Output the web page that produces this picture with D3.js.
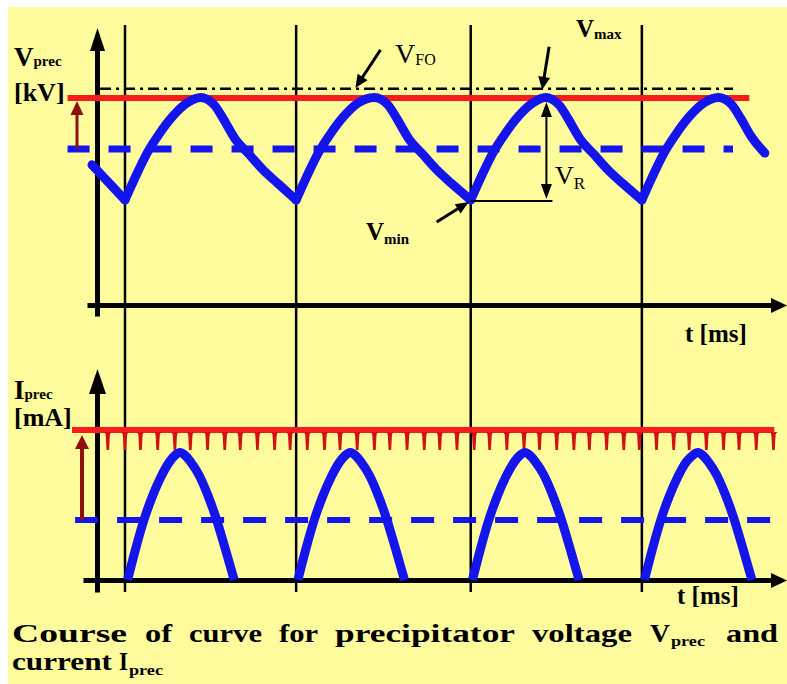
<!DOCTYPE html>
<html><head><meta charset="utf-8">
<script src="https://cdn.jsdelivr.net/npm/d3@7"></script>
<style>html,body{margin:0;padding:0;background:#fff;} svg{display:block;}</style>
</head><body>
<svg id="chart" width="787" height="684"></svg>
<script>
// ---------------- DATA ----------------
// reference instants (ms) marked by the vertical lines
const cycleStarts = [0, 9.95, 20.1, 30.05];
// precipitator voltage waveform (ms, kV)
const voltageT = [-1.92, -1.0, 0,
  0.6, 1.3, 2.0, 2.8, 3.6, 4.4, 4.75, 5.2, 5.7, 6.4, 7.2, 8.0, 8.9, 9.95,
  10.55, 11.25, 11.95, 12.75, 13.55, 14.5, 14.85, 15.3, 15.8, 16.5, 17.3, 18.1, 19.0, 20.1,
  20.7, 21.4, 22.1, 22.9, 23.7, 24.45, 24.8, 25.25, 25.75, 26.45, 27.25, 28.05, 28.95, 30.05,
  30.65, 31.35, 32.05, 32.85, 33.65, 34.5, 34.85, 35.3, 35.8, 36.4, 37.2];
const voltageV = [46.9, 43.6, 40,
  44.5, 49.3, 53, 56.5, 59, 60.1, 59.8, 58.6, 56, 52, 49, 46, 43.2, 40,
  44.5, 49.3, 53, 56.5, 59, 60.1, 59.8, 58.6, 56, 52, 49, 46, 43.2, 40,
  44.5, 49.3, 53, 56.5, 59, 60.1, 59.8, 58.6, 56, 52, 49, 46, 43.2, 40,
  44.5, 49.3, 53, 56.5, 59, 60.1, 59.8, 58.6, 56, 52.5, 49.2];
// voltage levels (kV)
const vFO = 61.8, vMax = 60, vMean = 50, vMin = 40;
// current pulses (ms, mA)
const humpT = [
  [0.15, 0.6, 1.1, 1.6, 2.1, 2.6, 2.9, 3.2, 3.5, 3.8, 4.3, 4.8, 5.3, 5.8, 6.35],
  [10.05, 10.5, 11.0, 11.5, 12.0, 12.5, 12.8, 13.1, 13.4, 13.7, 14.2, 14.7, 15.2, 15.7, 16.25],
  [20.2, 20.65, 21.15, 21.65, 22.15, 22.65, 22.95, 23.25, 23.55, 23.85, 24.35, 24.85, 25.35, 25.85, 26.4],
  [30.2, 30.65, 31.15, 31.65, 32.15, 32.65, 33.0, 33.3, 33.6, 33.9, 34.4, 34.9, 35.4, 35.9, 36.45]];
const humpI = [
  [0, 20, 40, 56, 69, 79, 83, 85, 83, 79, 70, 57, 41, 22, 0],
  [0, 20, 40, 56, 69, 79, 83, 85, 83, 79, 70, 57, 41, 22, 0],
  [0, 20, 40, 56, 69, 79, 83, 85, 83, 79, 70, 57, 41, 22, 0],
  [0, 20, 40, 56, 69, 79, 83, 85, 83, 79, 70, 57, 41, 22, 0]];
// current levels (mA)
const iMax = 100, iMean = 40;
// instants of the ripple notches on the max-current line (ms)
const rippleT = [-1.0, 0.0, 0.9, 1.9, 2.9, 3.8, 4.8, 5.8, 6.7, 7.7, 8.7, 9.6, 10.6, 11.6, 12.5,
  13.5, 14.5, 15.4, 16.4, 17.4, 18.3, 19.3, 20.3, 21.2, 22.2, 23.2, 24.1, 25.1, 26.1, 27.0,
  28.0, 29.0, 29.9, 30.9, 31.9, 32.8, 33.8, 34.8, 35.7, 36.7, 37.7];
// texts
const vLabel = ["V", "prec", "[kV]"];
const iLabel = ["I", "prec", "[mA]"];
const timeLabel = "t [ms]";

// ---------------- LAYOUT ----------------
const BLUE = "#1414EC", RED = "#FA1C1C", DARKRED = "#8E1010", BG = "#FEFC9C";
const FONT = "'Liberation Serif','Times New Roman',serif";
const svg = d3.select("#chart");
svg.append("rect").attr("x", 8).attr("y", 7).attr("width", 779).attr("height", 677).attr("fill", BG);

const x = d3.scaleLinear().domain([0, 10]).range([125, 297]);
const vY = d3.scaleLinear().domain([40, 60]).range([200, 98]);
const iY = d3.scaleLinear().domain([0, 100]).range([580, 430]);

function arrow(g, x1, y1, x2, y2, o) {
  o = Object.assign({color: "#000", w: 3, hl: 12, hw: 11}, o || {});
  const dx = x2 - x1, dy = y2 - y1, L = Math.hypot(dx, dy), ux = dx / L, uy = dy / L;
  const bx = x2 - ux * o.hl, by = y2 - uy * o.hl;
  g.append("line").attr("x1", x1).attr("y1", y1).attr("x2", bx + ux * 1.5).attr("y2", by + uy * 1.5)
    .attr("stroke", o.color).attr("stroke-width", o.w);
  g.append("path").attr("d", `M${x2},${y2}L${bx - uy * o.hw / 2},${by + ux * o.hw / 2}L${bx + uy * o.hw / 2},${by - ux * o.hw / 2}Z`)
    .attr("fill", o.color);
}
function label(g, px, py, main, sub, o) {
  o = Object.assign({size: 27, subSize: 15, weight: "bold", subDy: 2, subWeight: null}, o || {});
  const t = g.append("text").attr("x", px).attr("y", py).attr("font-family", FONT)
    .attr("font-weight", o.weight).attr("font-size", o.size).attr("fill", "#000");
  t.append("tspan").text(main);
  if (sub) t.append("tspan").attr("dy", o.subDy).attr("font-size", o.subSize)
    .attr("font-weight", o.subWeight || o.weight).text(sub);
  return t;
}

const g = svg.append("g");

// vertical reference lines
g.selectAll("line.ref").data(cycleStarts).join("line").attr("class", "ref")
  .attr("x1", d => x(d)).attr("x2", d => x(d)).attr("y1", 25).attr("y2", 592)
  .attr("stroke", "#000").attr("stroke-width", 2.5);

// ---------- top panel ----------
const vAxisScale = d3.scaleLinear().domain([vY.invert(316), vY.invert(50)]).range([316, 50]);
g.append("g").attr("transform", "translate(97,0)")
  .call(d3.axisLeft(vAxisScale).tickValues([]).tickSizeOuter(0))
  .select(".domain").attr("stroke", "#000").attr("stroke-width", 5);
arrow(g, 97.5, 52, 97.5, 28, {w: 0, hl: 23, hw: 15});
const tAxisTop = d3.scaleLinear().domain([x.invert(87), x.invert(773)]).range([87, 773]);
g.append("g").attr("transform", "translate(0,305)")
  .call(d3.axisBottom(tAxisTop).tickValues([]).tickSizeOuter(0))
  .select(".domain").attr("stroke", "#000").attr("stroke-width", 5);
arrow(g, 772, 305.5, 787, 305.5, {w: 0, hl: 16, hw: 15});

// levels
g.append("line").attr("x1", x(-1.45)).attr("x2", x(35.35)).attr("y1", vY(vFO)).attr("y2", vY(vFO))
  .attr("stroke", "#000").attr("stroke-width", 2.4).attr("stroke-dasharray", "11,5,3,5");
g.append("line").attr("x1", x(-3.34)).attr("x2", x(36.3)).attr("y1", vY(vMax)).attr("y2", vY(vMax))
  .attr("stroke", RED).attr("stroke-width", 6);
g.append("line").attr("x1", x(-3.34)).attr("x2", x(35.35)).attr("y1", vY(vMean)).attr("y2", vY(vMean))
  .attr("stroke", BLUE).attr("stroke-width", 7).attr("stroke-dasharray", "22,19");
arrow(g, x(-2.79), vY(vMean), x(-2.79), vY(vMax) + 3, {color: DARKRED, w: 3, hl: 14, hw: 13});

// voltage waveform, split at the minima so the cusps stay sharp
const vPts = voltageT.map((t, i) => [t, voltageV[i]]);
const segs = []; let cur = [vPts[0]];
for (let i = 1; i < vPts.length; i++) {
  cur.push(vPts[i]);
  if (i < vPts.length - 1 && vPts[i][1] < vPts[i - 1][1] && vPts[i][1] < vPts[i + 1][1]) { segs.push(cur); cur = [vPts[i]]; }
}
segs.push(cur);
const vLine = d3.line().x(d => x(d[0])).y(d => vY(d[1])).curve(d3.curveMonotoneX);
g.selectAll("path.vwave").data(segs).join("path").attr("class", "vwave")
  .attr("d", vLine).attr("fill", "none").attr("stroke", BLUE).attr("stroke-width", 9)
  .attr("stroke-linecap", "round").attr("stroke-linejoin", "round");

// annotations
arrow(g, x(13.4) + 25, vY(vFO) - 39, x(13.4), vY(vFO) - 1, {w: 3, hl: 13, hw: 12});
label(g, 395, 63, "V", "FO", {size: 28, subSize: 16, weight: "normal", subDy: 2});
arrow(g, x(24.25) + 7, vY(vFO) - 42, x(24.25), vY(vFO) + 1, {w: 3, hl: 13, hw: 12});
label(g, 576, 37, "V", "max", {size: 25, subSize: 15, weight: "bold", subDy: 2});
// V_R
g.append("line").attr("x1", x(20.1)).attr("x2", x(24.85)).attr("y1", vY(vMin) + 1).attr("y2", vY(vMin) + 1)
  .attr("stroke", "#000").attr("stroke-width", 2);
arrow(g, x(24.5), vY(50), x(24.5), vY(vMax) + 4, {w: 2, hl: 15, hw: 11});
arrow(g, x(24.5), vY(50), x(24.5), vY(vMin) - 1, {w: 2, hl: 15, hw: 11});
label(g, 555, 184, "V", "R", {size: 26, subSize: 17, weight: "normal", subDy: 5});
// V_min
arrow(g, x(20.1) - 34, vY(vMin) + 22, x(20.1) - 2, vY(vMin) + 2, {w: 3, hl: 13, hw: 11});
label(g, 366, 240, "V", "min", {size: 25, subSize: 15, weight: "bold", subDy: 4});

label(g, 14, 66, vLabel[0], vLabel[1], {size: 27, subSize: 15, subDy: 0});
g.append("text").attr("x", 14).attr("y", 101).attr("font-family", FONT).attr("font-weight", "bold")
  .attr("font-size", 26).text(vLabel[2]);
g.append("text").attr("x", 685).attr("y", 342).attr("font-family", FONT).attr("font-weight", "bold")
  .attr("font-size", 25).text(timeLabel);

// ---------- bottom panel ----------
const iAxisScale = d3.scaleLinear().domain([iY.invert(592), iY.invert(392)]).range([592, 392]);
g.append("g").attr("transform", "translate(97,0)")
  .call(d3.axisLeft(iAxisScale).tickValues([]).tickSizeOuter(0))
  .select(".domain").attr("stroke", "#000").attr("stroke-width", 5);
arrow(g, 97.5, 394, 97.5, 369, {w: 0, hl: 25, hw: 17});
const tAxisBot = d3.scaleLinear().domain([x.invert(83), x.invert(773)]).range([83, 773]);
g.append("g").attr("transform", "translate(0," + iY(0) + ")")
  .call(d3.axisBottom(tAxisBot).tickValues([]).tickSizeOuter(0))
  .select(".domain").attr("stroke", "#000").attr("stroke-width", 5);
arrow(g, 772, iY(0) + 0.5, 787, iY(0) + 0.5, {w: 0, hl: 16, hw: 15});

// max current line with ripple notches
g.append("line").attr("x1", x(-3.08)).attr("x2", x(37.75)).attr("y1", iY(iMax)).attr("y2", iY(iMax))
  .attr("stroke", RED).attr("stroke-width", 6);
const y0 = iY(iMax) + 2;
g.selectAll("path.notch").data(rippleT).join("path").attr("class", "notch")
  .attr("d", t => { const c = x(t); return `M${c - 5},${y0} Q${c - 2},${y0} ${c - 2},${y0 + 5} L${c - 1.3},${y0 + 18} L${c + 1.3},${y0 + 18} L${c + 2},${y0 + 5} Q${c + 2},${y0} ${c + 5},${y0} Z`; })
  .attr("fill", "#D01212");

g.append("line").attr("x1", x(-2.9)).attr("x2", x(37.8)).attr("y1", iY(iMean)).attr("y2", iY(iMean))
  .attr("stroke", BLUE).attr("stroke-width", 6).attr("stroke-dasharray", "23,19");
arrow(g, x(-2.5), iY(iMean), x(-2.5), iY(iMax) + 5, {color: DARKRED, w: 4, hl: 14, hw: 14});

const iLine = d3.line().x(d => x(d[0])).y(d => iY(d[1])).curve(d3.curveMonotoneX);
const humps = humpT.map((ts, k) => ts.map((t, i) => [t, humpI[k][i]]));
g.selectAll("path.ihump").data(humps).join("path").attr("class", "ihump")
  .attr("d", iLine).attr("fill", "none").attr("stroke", BLUE).attr("stroke-width", 9)
  .attr("stroke-linejoin", "round");

label(g, 14, 399, iLabel[0], iLabel[1], {size: 27, subSize: 15, subDy: 0});
g.append("text").attr("x", 14).attr("y", 426).attr("font-family", FONT).attr("font-weight", "bold")
  .attr("font-size", 26).text(iLabel[2]);
g.append("text").attr("x", 677).attr("y", 604).attr("font-family", FONT).attr("font-weight", "bold")
  .attr("font-size", 25).text(timeLabel);

// ---------- caption ----------
function word(txt, x1, x2, y, size) {
  g.append("text").attr("x", x1).attr("y", y).attr("font-family", FONT).attr("font-weight", "bold")
    .attr("font-size", size).attr("textLength", x2 - x1).attr("lengthAdjust", "spacingAndGlyphs").text(txt);
}
word("Course", 12, 127, 642, 26);
word("of", 145, 172, 642, 26);
word("curve", 189, 262, 642, 26);
word("for", 279, 318, 642, 26);
word("precipitator", 335, 515, 642, 26);
word("voltage", 532, 632, 642, 26);
word("V", 650, 670, 642, 26);
word("prec", 671, 705, 646, 15);
word("and", 726, 778, 642, 26);
word("current", 12, 112, 670, 26);
word("I", 119, 128, 670, 26);
word("prec", 129, 163, 675, 15);
</script>
</body></html>
